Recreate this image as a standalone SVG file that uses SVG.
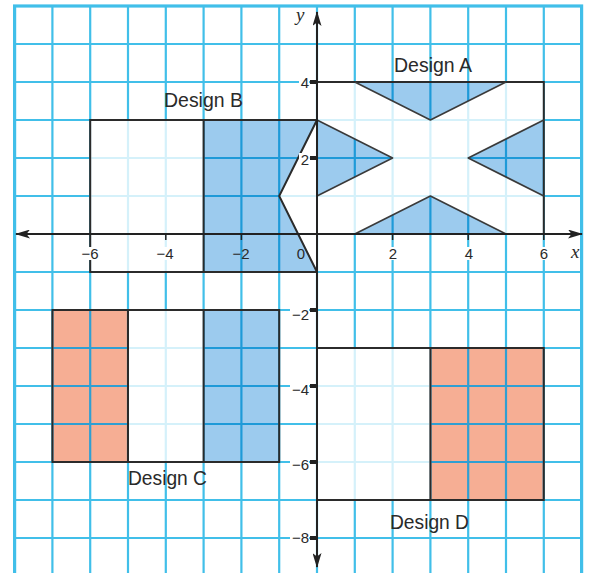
<svg xmlns="http://www.w3.org/2000/svg" width="589" height="573" viewBox="0 0 589 573">
<style>
.lab{font-family:"Liberation Sans",Arial,sans-serif;font-size:21px;fill:#2a2a2a}
.tkx{font-family:"Liberation Sans",Arial,sans-serif;font-size:15px;fill:#2a2a2a;text-anchor:middle}
.tky{font-family:"Liberation Sans",Arial,sans-serif;font-size:15px;fill:#2a2a2a;text-anchor:end}
.ax{font-family:"Liberation Serif","Times New Roman",serif;font-style:italic;font-size:19px;fill:#2a2a2a}
.outline{fill:none;stroke:#2b2b2b;stroke-width:2}
.edge{fill:none;stroke:#3a3a3a;stroke-width:1.6;stroke-linejoin:round}
.blue{fill:#9ccbee}
.salmon{fill:#f6ae94}
.fade{fill:#fff;fill-opacity:0.78}
.bg{fill:#fff}
.axis{stroke:#222;stroke-width:2;fill:none}
.tick{fill:#222}
</style>
<defs>
<path id="gl" fill="none" d="M14.6 6V573M52.4 6V573M90.2 6V573M128 6V573M165.8 6V573M203.6 6V573M241.4 6V573M279.2 6V573M317 6V573M354.8 6V573M392.6 6V573M430.4 6V573M468.2 6V573M506 6V573M543.8 6V573M581.6 6V573M14.6 6H581.6M14.6 44H581.6M14.6 82H581.6M14.6 120H581.6M14.6 158H581.6M14.6 196H581.6M14.6 234H581.6M14.6 272H581.6M14.6 310H581.6M14.6 348H581.6M14.6 386H581.6M14.6 424H581.6M14.6 462H581.6M14.6 500H581.6M14.6 538H581.6"/>
<clipPath id="cb">
<polygon points="354.8,82 506,82 430.4,120"/>
<polygon points="354.8,234 506,234 430.4,196"/>
<polygon points="317,120 392.6,158 317,196"/>
<polygon points="543.8,120 468.2,158 543.8,196"/>
<polygon points="203.6,120 317,120 279.2,196 317,272 203.6,272"/>
<rect x="203.6" y="310" width="75.6" height="152"/>
</clipPath>
<clipPath id="cs">
<rect x="52.4" y="310" width="75.6" height="152"/>
<rect x="430.4" y="348" width="113.4" height="152"/>
</clipPath>
<marker id="arr" viewBox="0 0 15 9" refX="14" refY="4.5" markerWidth="15" markerHeight="9" markerUnits="userSpaceOnUse" orient="auto-start-reverse">
<path d="M0,0 L15,4.5 L0,9 L3.5,4.5 Z" fill="#222"/>
</marker>
</defs>
<rect width="589" height="573" fill="#fff"/>
<g id="grid">
<use href="#gl" stroke="#41bfe9" stroke-width="2.2"/>
<rect x="14.6" y="6" width="567" height="590" fill="none" stroke="#41bfe9" stroke-width="3.2"/>
</g>
<g id="design-a">
<rect class="fade" x="317" y="82" width="226.8" height="152"/>
<polygon class="blue" points="354.8,82 506,82 430.4,120"/>
<polygon class="blue" points="354.8,234 506,234 430.4,196"/>
<polygon class="blue" points="317,120 392.6,158 317,196"/>
<polygon class="blue" points="543.8,120 468.2,158 543.8,196"/>
</g>
<g id="design-b">
<rect class="fade" x="90.2" y="120" width="226.8" height="152"/>
<polygon class="blue" points="203.6,120 317,120 279.2,196 317,272 203.6,272"/>
</g>
<g id="design-c">
<rect class="fade" x="52.4" y="310" width="226.8" height="152"/>
<rect class="salmon" x="52.4" y="310" width="75.6" height="152"/>
<rect class="blue" x="203.6" y="310" width="75.6" height="152"/>
</g>
<g id="design-d">
<rect class="fade" x="317" y="348" width="226.8" height="152"/>
<rect class="salmon" x="430.4" y="348" width="113.4" height="152"/>
</g>
<g id="grid-over">
<use href="#gl" stroke="#1e9ad8" stroke-width="2.2" clip-path="url(#cb)"/>
<use href="#gl" stroke="#2f9fd2" stroke-width="2.2" clip-path="url(#cs)"/>
</g>
<g id="outlines">
<rect class="outline" x="317" y="82" width="226.8" height="152"/>
<path class="edge" d="M354.8,82 L430.4,120 L506,82 M354.8,234 L430.4,196 L506,234 M317,120 L392.6,158 L317,196 M543.8,120 L468.2,158 L543.8,196"/>
<rect class="outline" x="90.2" y="120" width="226.8" height="152"/>
<path class="outline" d="M203.6,120 V272 M317,120 L279.2,196 L317,272"/>
<rect class="outline" x="52.4" y="310" width="226.8" height="152" stroke="#2a1f1c"/>
<path class="outline" d="M128,310 V462 M203.6,310 V462" stroke="#2a1f1c"/>
<rect class="outline" x="317" y="348" width="226.8" height="152"/>
<path class="outline" d="M430.4,348 V500"/>
</g>
<g id="axes">
<line class="axis" x1="16" y1="234" x2="582" y2="234" marker-start="url(#arr)" marker-end="url(#arr)"/>
<line class="axis" x1="317" y1="12" x2="317" y2="567" marker-start="url(#arr)" marker-end="url(#arr)"/>
<rect class="tick" x="310" y="80" width="7" height="4"/>
<rect class="tick" x="310" y="156" width="7" height="4"/>
<rect class="tick" x="310" y="308" width="7" height="4"/>
<rect class="tick" x="310" y="384" width="7" height="4"/>
<rect class="tick" x="310" y="460" width="7" height="4"/>
<rect class="tick" x="310" y="536" width="7" height="4"/>
<path d="M165.8,234V240M241.4,234V240M392.6,234V240M468.2,234V240M543.8,234V240" stroke="#222" stroke-width="1.5"/>
</g>
<g id="tick-labels">
<rect class="bg" x="82" y="247" width="17" height="13"/>
<rect class="bg" x="157" y="247" width="17" height="13"/>
<rect class="bg" x="388" y="247" width="10" height="13"/>
<rect class="bg" x="464" y="247" width="10" height="13"/>
<rect class="bg" x="539" y="247" width="10" height="13"/>
<text class="tkx" x="90" y="259">−6</text>
<text class="tkx" x="165" y="259">−4</text>
<text class="tkx" x="241" y="259">−2</text>
<text class="tkx" x="301" y="259">0</text>
<text class="tkx" x="393" y="259">2</text>
<text class="tkx" x="469" y="259">4</text>
<text class="tkx" x="544" y="259">6</text>
<rect class="bg" x="299" y="76" width="10" height="12"/>
<rect class="bg" x="299" y="153" width="10" height="12"/>
<rect class="bg" x="290" y="308" width="19" height="13"/>
<rect class="bg" x="290" y="383" width="19" height="13"/>
<rect class="bg" x="290" y="458" width="19" height="13"/>
<rect class="bg" x="290" y="531" width="19" height="13"/>
<text class="tky" x="309" y="87.5">4</text>
<text class="tky" x="309" y="164.5">2</text>
<text class="tky" x="309" y="320">−2</text>
<text class="tky" x="309" y="395">−4</text>
<text class="tky" x="309" y="470">−6</text>
<text class="tky" x="309" y="543">−8</text>
<text class="ax" x="571" y="258">x</text>
<text class="ax" x="296" y="21">y</text>
</g>
<g id="design-labels">
<text class="lab" x="394" y="72" textLength="78" lengthAdjust="spacingAndGlyphs">Design A</text>
<text class="lab" x="164" y="107" textLength="79" lengthAdjust="spacingAndGlyphs">Design B</text>
<text class="lab" x="128" y="485" textLength="79" lengthAdjust="spacingAndGlyphs">Design C</text>
<text class="lab" x="390" y="529" textLength="79" lengthAdjust="spacingAndGlyphs">Design D</text>
</g>
</svg>
